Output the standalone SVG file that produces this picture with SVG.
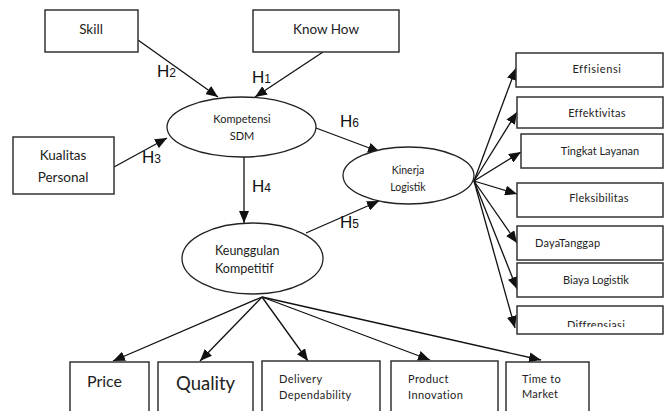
<svg xmlns="http://www.w3.org/2000/svg" width="667" height="411" viewBox="0 0 667 411">
<style>
.box{fill:#fff;stroke:#333;stroke-width:1.5}
.ell{fill:#fff;stroke:#222;stroke-width:1.3}
.t{font-family:Lato,"Open Sans","Liberation Sans",sans-serif;fill:#222}
.c{text-anchor:middle}
.h{font-family:"Liberation Sans",Arial,sans-serif;fill:#111;font-size:17px}
.h tspan{font-size:12px}
.ln{stroke:#111;stroke-width:1.3;fill:none;marker-end:url(#ah)}
</style>
<defs>
<marker id="ah" viewBox="0 0 12 10" refX="12" refY="5" markerWidth="12" markerHeight="10" markerUnits="userSpaceOnUse" orient="auto">
<path d="M0,0 L12,5 L0,10 z" fill="#111"/>
</marker>
<clipPath id="cl"><rect x="517" y="306" width="146" height="21"/></clipPath>
</defs>
<rect width="667" height="411" fill="#fff"/>

<g id="connectors">
<line class="ln" x1="138" y1="40" x2="218" y2="97"/>
<line class="ln" x1="323" y1="52" x2="255" y2="97"/>
<line class="ln" x1="114" y1="167" x2="167" y2="138"/>
<line class="ln" x1="244" y1="157" x2="244" y2="223"/>
<line class="ln" x1="308" y1="125" x2="380" y2="152"/>
<line class="ln" x1="306" y1="233" x2="379" y2="201"/>
<line class="ln" x1="474" y1="181" x2="516" y2="68"/>
<line class="ln" x1="474" y1="181" x2="517" y2="112"/>
<line class="ln" x1="474" y1="181" x2="521" y2="152"/>
<line class="ln" x1="474" y1="181" x2="517" y2="194"/>
<line class="ln" x1="474" y1="181" x2="517" y2="243"/>
<line class="ln" x1="474" y1="181" x2="517" y2="289"/>
<line class="ln" x1="474" y1="181" x2="515" y2="328"/>
<line class="ln" x1="262" y1="297" x2="113" y2="361"/>
<line class="ln" x1="262" y1="297" x2="200" y2="361"/>
<line class="ln" x1="262" y1="297" x2="308" y2="361"/>
<line class="ln" x1="262" y1="297" x2="430" y2="360"/>
<line class="ln" x1="262" y1="297" x2="541" y2="360"/>
<text class="h" x="157" y="77">H<tspan>2</tspan></text>
<text class="h" x="252" y="83">H<tspan>1</tspan></text>
<text class="h" x="142" y="163">H<tspan>3</tspan></text>
<text class="h" x="252" y="192">H<tspan>4</tspan></text>
<text class="h" x="340" y="127">H<tspan>6</tspan></text>
<text class="h" x="340" y="228">H<tspan>5</tspan></text>
</g>

<g id="skill"><rect class="box" x="45" y="10" width="93" height="42"/><text class="t c" x="91" y="34" font-size="13.5">Skill</text></g>
<g id="knowhow"><rect class="box" x="253" y="10" width="146" height="42"/><text class="t c" x="326" y="34" font-size="13.5">Know How</text></g>
<g id="kualitas"><rect class="box" x="13" y="137" width="101" height="57"/><text class="t c" x="63" y="160" font-size="13.5">Kualitas</text><text class="t c" x="63" y="182" font-size="13.5">Personal</text></g>

<g id="kompetensi"><ellipse class="ell" cx="241.5" cy="127" rx="74.5" ry="30"/><text class="t c" x="242" y="123" font-size="11">Kompetensi</text><text class="t c" x="242" y="140" font-size="11">SDM</text></g>
<g id="kinerja"><ellipse class="ell" cx="408.5" cy="175.5" rx="65.5" ry="28.5"/><text class="t c" x="408" y="174" font-size="10.5">Kinerja</text><text class="t c" x="408" y="191" font-size="10.5">Logistik</text></g>
<g id="keunggulan"><ellipse class="ell" cx="252.5" cy="258.5" rx="70.5" ry="35.5"/><text class="t" x="215" y="255" font-size="12.5">Keunggulan</text><text class="t" x="215" y="273" font-size="12.5">Kompetitif</text></g>

<g id="effisiensi"><rect class="box" x="516" y="53" width="147" height="34"/><text class="t c" x="597" y="73" font-size="11" letter-spacing="0.6">Effisiensi</text></g>
<g id="effektivitas"><rect class="box" x="517" y="97" width="146" height="31"/><text class="t c" x="597" y="117" font-size="11" letter-spacing="0.3">Effektivitas</text></g>
<g id="tingkat"><rect class="box" x="521" y="134" width="142" height="34"/><text class="t c" x="600" y="155" font-size="11">Tingkat Layanan</text></g>
<g id="fleksibilitas"><rect class="box" x="517" y="183" width="146" height="34"/><text class="t c" x="599" y="202" font-size="11" letter-spacing="0.3">Fleksibilitas</text></g>
<g id="dayatanggap"><rect class="box" x="517" y="226" width="146" height="34"/><text class="t" x="535" y="247" font-size="11" letter-spacing="0.2">DayaTanggap</text></g>
<g id="biaya"><rect class="box" x="517" y="263" width="146" height="34"/><text class="t c" x="596" y="284" font-size="11">Biaya Logistik</text></g>
<g id="diffrensiasi"><rect class="box" x="517" y="306" width="146" height="28"/><text class="t c" x="596" y="329" font-size="11" letter-spacing="0.3" clip-path="url(#cl)">Diffrensiasi</text></g>

<g id="price"><rect class="box" x="70" y="362" width="79" height="60"/><text class="t" x="87" y="387" font-size="16">Price</text></g>
<g id="quality"><rect class="box" x="158" y="362" width="95" height="60"/><text class="t" x="176" y="390" font-size="18.5">Quality</text></g>
<g id="delivery"><rect class="box" x="262" y="361" width="118" height="60"/><text class="t" x="279" y="383" font-size="11" letter-spacing="0.4">Delivery</text><text class="t" x="279" y="399" font-size="11" letter-spacing="0.4">Dependability</text></g>
<g id="product"><rect class="box" x="391" y="361" width="107" height="60"/><text class="t" x="408" y="383" font-size="11" letter-spacing="0.4">Product</text><text class="t" x="408" y="399" font-size="11" letter-spacing="0.4">Innovation</text></g>
<g id="time"><rect class="box" x="506" y="362" width="83" height="60"/><text class="t" x="522" y="383" font-size="11" letter-spacing="0.3">Time to</text><text class="t" x="522" y="398" font-size="11" letter-spacing="0.3">Market</text></g>
</svg>
